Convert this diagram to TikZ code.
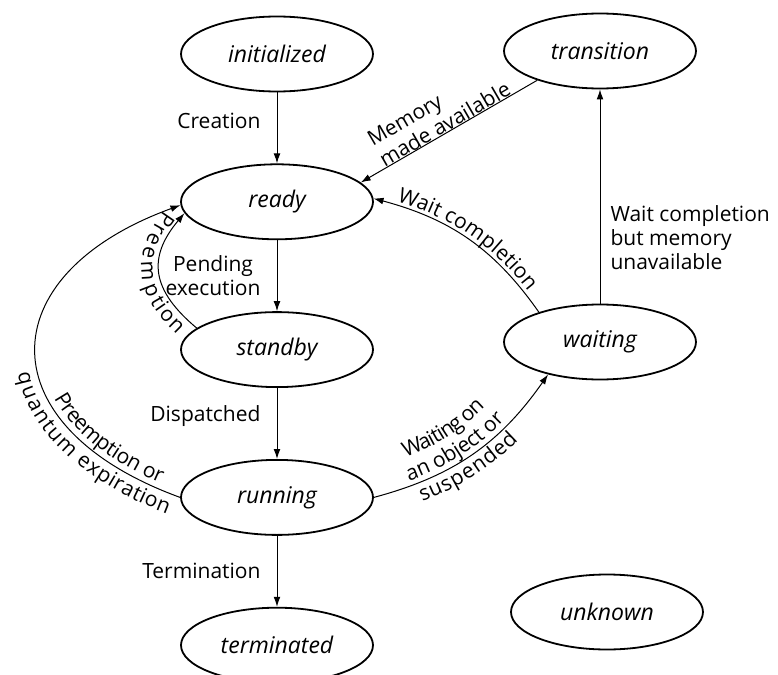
\documentclass[tikz,border=0pt]{standalone}
\usepackage{fontspec}
\setmainfont{Open Sans}
\usetikzlibrary{shapes.geometric,arrows.meta,positioning,decorations.text}
\newcommand\LBfont{\fontsize{10.5}{12}\selectfont}
\tikzset{
  ST/.style={ellipse,draw,line width=0.9pt,
             minimum width=96pt,minimum height=37.5pt,inner sep=0pt,
             font=\fontsize{11.5}{13}\selectfont\itshape},
  arr/.style={-{Latex[length=5pt,width=3.4pt]},line width=0.5pt},
  LB/.style={font=\LBfont,align=center,inner sep=2pt},
  TX/.style={decorate,decoration={text along path,text align=center,#1}}
}
\begin{document}
\begin{tikzpicture}[x=0.5pt,y=0.5pt,node distance=35.5pt]
  \useasboundingbox (0,0) rectangle (778,-675);
  \node[ST] (init) at (277,-54) {initialized};
  \node[ST,below=of init] (ready) {ready};
  \node[ST,below=of ready] (standby) {standby};
  \node[ST,below=of standby] (running) {running};
  \node[ST,below=of running] (term) {terminated};
  \node[ST] (trans) at (600,-51) {transition};
  \node[ST] (waiting) at (600,-342) {waiting};
  \node[ST] (unknown) at (607,-612) {unknown};

  \draw[arr](init)--node[LB,left=6pt,pos=0.4]{Creation}(ready);
  \draw[arr](ready)--node[LB,left=6pt]{Pending\\execution}(standby);
  \draw[arr](standby)--node[LB,left=6pt,pos=0.4]{Dispatched}(running);
  \draw[arr](running)--node[LB,left=6pt]{Termination}(term);

  \draw[arr](trans.205)--node[LB,sloped,above=-2pt,align=left]{Memory\\made available}(ready.13);
  \draw[arr,postaction={TX={reverse path,raise=2pt,text={|\LBfont|Wait completion}}}]
    (waiting.154) to[out=125,in=-15] (ready.2);
  \draw[arr](waiting)--node[LB,right=3pt,pos=0.31,align=left]{Wait completion\\but memory\\unavailable}(trans);

  \draw[arr,postaction={TX={reverse path,raise=-9pt,text={|\LBfont|Preemption}}}]
    (standby.165) to[out=140,in=230,looseness=1.3] (ready.187);
  \draw[arr,postaction={TX={reverse path,text align={right,right indent=12pt},raise=3pt,text={|\LBfont|Preemption or}}},
        postaction={TX={reverse path,text align={right,right indent=3pt},raise=-10pt,text={|\LBfont|quantum expiration}}}]
    (running.west) to[out=160,in=200,looseness=1.8] (ready.182);
  \draw[arr,postaction={TX={text align={center,right indent=12pt},raise=14pt,text={|\LBfont|Waiting on}}},
        postaction={TX={text align={center,right indent=12pt},raise=2.5pt,text={|\LBfont|an object or}}},
        postaction={TX={text align={center,right indent=12pt},raise=-9.5pt,text={|\LBfont|suspended}}}]
    (running.east) to[out=15,in=235] (waiting.212);
\end{tikzpicture}
\end{document}
